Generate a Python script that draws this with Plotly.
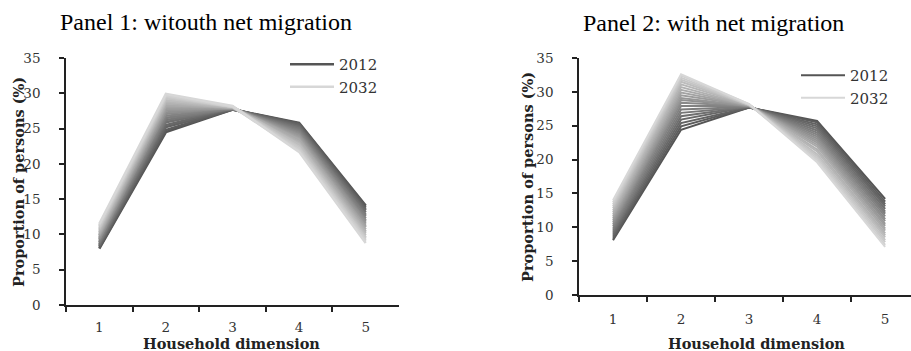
import plotly.graph_objects as go

categories = ["1", "2", "3", "4", "5"]
years = list(range(2012, 2033))

# Panel 1: without net migration (value per year, 2012..2032) for each household dimension
p1_hh1 = [8.0, 8.1, 8.3, 8.4, 8.6, 8.8, 8.9, 9.1, 9.3, 9.4, 9.6, 9.8, 9.9, 10.1, 10.3, 10.5, 10.7, 10.9, 11.1, 11.3, 11.5]
p1_hh2 = [24.5, 24.8, 25.2, 25.5, 25.9, 26.2, 26.5, 26.8, 27.1, 27.3, 27.6, 27.8, 28.1, 28.3, 28.6, 28.8, 29.0, 29.3, 29.5, 29.7, 29.9]
p1_hh3 = [27.7, 27.7, 27.7, 27.8, 27.8, 27.8, 27.8, 27.8, 27.9, 27.9, 27.9, 27.9, 28.0, 28.0, 28.0, 28.0, 28.1, 28.1, 28.1, 28.1, 28.2]
p1_hh4 = [25.8, 25.7, 25.6, 25.4, 25.2, 25.0, 24.8, 24.6, 24.4, 24.2, 24.0, 23.8, 23.6, 23.4, 23.1, 22.9, 22.7, 22.4, 22.2, 21.9, 21.7]
p1_hh5 = [14.1, 13.9, 13.6, 13.4, 13.1, 12.8, 12.6, 12.3, 12.0, 11.8, 11.5, 11.2, 11.0, 10.7, 10.4, 10.2, 9.9, 9.6, 9.4, 9.1, 8.8]

# Panel 2: with net migration
p2_hh1 = [8.1, 8.3, 8.6, 8.9, 9.2, 9.5, 9.8, 10.1, 10.4, 10.7, 11.0, 11.3, 11.6, 11.9, 12.2, 12.5, 12.8, 13.1, 13.4, 13.7, 14.0]
p2_hh2 = [24.4, 24.9, 25.4, 25.9, 26.4, 26.9, 27.4, 27.9, 28.4, 28.8, 29.1, 29.5, 29.9, 30.3, 30.7, 31.1, 31.5, 31.8, 32.1, 32.4, 32.6]
p2_hh3 = [27.7, 27.7, 27.7, 27.8, 27.8, 27.8, 27.8, 27.9, 27.9, 27.9, 27.9, 28.0, 28.0, 28.0, 28.0, 28.1, 28.1, 28.1, 28.1, 28.2, 28.2]
p2_hh4 = [25.7, 25.5, 25.2, 24.9, 24.6, 24.3, 24.0, 23.7, 23.4, 23.1, 22.8, 22.5, 22.2, 21.9, 21.5, 21.2, 20.8, 20.5, 20.2, 19.9, 19.6]
p2_hh5 = [14.2, 13.8, 13.4, 13.1, 12.7, 12.3, 12.0, 11.6, 11.2, 10.9, 10.5, 10.2, 9.8, 9.5, 9.1, 8.8, 8.5, 8.1, 7.8, 7.4, 7.1]

panel1 = [p1_hh1, p1_hh2, p1_hh3, p1_hh4, p1_hh5]
panel2 = [p2_hh1, p2_hh2, p2_hh3, p2_hh4, p2_hh5]

W, H = 911, 351
def px_x(v):
    return v / W
def px_y(v):
    return (H - v) / H

def gray(i, n):
    t = i / (n - 1)
    g = int(round(85 + t * (215 - 85)))
    return f"rgb({g},{g},{g})"

fig = go.Figure()
n = len(years)
for panel, xa, ya, lg, lw in [(panel1, "x", "y", "legend", 2.5), (panel2, "x2", "y2", "legend2", 2.0)]:
    for i, yr in enumerate(years):
        fig.add_trace(go.Scatter(
            x=categories,
            y=[col[i] for col in panel],
            mode="lines",
            name=str(yr),
            line=dict(color=gray(i, n), width=lw),
            xaxis=xa, yaxis=ya,
            legend=lg,
            showlegend=(i == 0 or i == n - 1),
            hoverinfo="skip",
        ))

tick_font = dict(family="DejaVu Serif", size=13.5, color="#333333")
axis_common = dict(showline=True, linecolor="#222222", linewidth=1.5, ticks="outside",
                   ticklen=5, tickcolor="#222222", tickwidth=1.5, showgrid=False,
                   zeroline=False, tickfont=tick_font, automargin=False)

legend_font = dict(family="DejaVu Serif", size=15, color="#333333")
fig.update_layout(
    template="none",
    width=W, height=H, autosize=False,
    margin=dict(l=0, r=0, t=0, b=0, pad=0, autoexpand=False),
    paper_bgcolor="white", plot_bgcolor="white",
    xaxis=dict(domain=[px_x(66), px_x(399)], anchor="y", type="category",
               range=[-0.5, 4.5], tickson="boundaries", ticklabelstandoff=9, **axis_common),
    yaxis=dict(domain=[px_y(305), px_y(58)], anchor="x", range=[0, 35], dtick=5,
               ticklabelstandoff=16, **axis_common),
    xaxis2=dict(domain=[px_x(579), 1.0], anchor="y2", type="category",
                range=[-0.5, 4.38], tickson="boundaries", ticklabelstandoff=11, **axis_common),
    yaxis2=dict(domain=[px_y(295), px_y(58)], anchor="x2", range=[0, 35], dtick=5,
                ticklabelstandoff=16, **axis_common),
    legend=dict(x=px_x(285), y=px_y(48), xanchor="left", yanchor="top",
                font=legend_font, bgcolor="rgba(0,0,0,0)", itemwidth=44, tracegroupgap=0),
    legend2=dict(x=px_x(796), y=px_y(59), xanchor="left", yanchor="top",
                 font=legend_font, bgcolor="rgba(0,0,0,0)", itemwidth=44, tracegroupgap=0),
    showlegend=True,
)

title_font = dict(family="Liberation Serif", size=24, color="black")
label_font = dict(family="DejaVu Serif", size=14.5, color="#222222")
annots = [
    dict(text="Panel 1: witouth net migration", x=px_x(206), y=px_y(22), font=title_font),
    dict(text="Panel 2: with net migration", x=px_x(713), y=px_y(23), font=title_font),
    dict(text="<b>Household dimension</b>", x=px_x(231), y=px_y(343.5), font=label_font),
    dict(text="<b>Household dimension</b>", x=px_x(756), y=px_y(343), font=label_font),
    dict(text="<b>Proportion of persons (%)</b>", x=px_x(18), y=px_y(182), font=label_font, textangle=-90),
    dict(text="<b>Proportion of persons (%)</b>", x=px_x(527), y=px_y(177), font=label_font, textangle=-90),
]
for a in annots:
    fig.add_annotation(xref="paper", yref="paper", showarrow=False,
                       xanchor="center", yanchor="middle", **a)

fig.write_html(
    "out.html",
    config={"responsive": False, "displayModeBar": False},
    post_script="document.body.style.margin='0';document.body.style.padding='0';"
                "document.documentElement.style.overflow='hidden';",
)
